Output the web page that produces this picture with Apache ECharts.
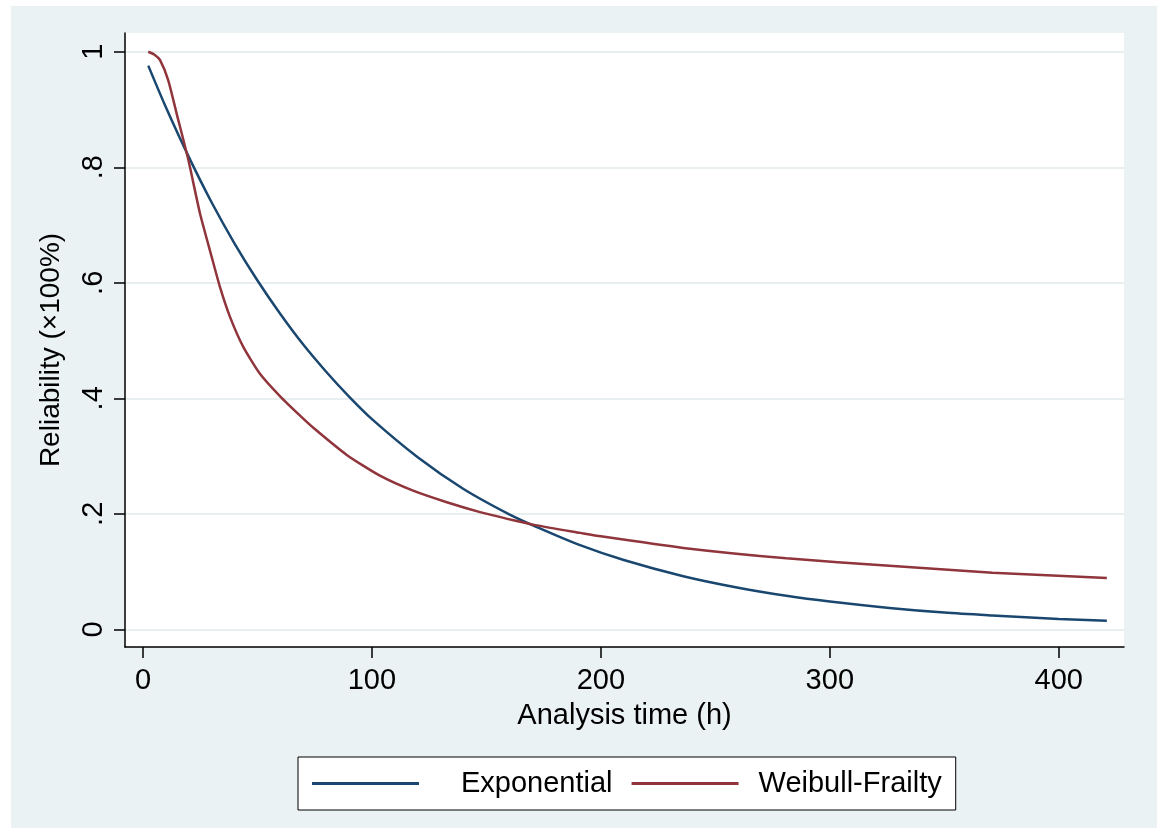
<!DOCTYPE html>
<html>
<head>
<meta charset="utf-8">
<script src="https://cdn.jsdelivr.net/npm/echarts@6/dist/echarts.min.js"></script>
<style>
html,body{margin:0;padding:0;background:#ffffff;}
#main{position:absolute;left:11px;top:6px;width:1146px;height:822px;}
</style>
</head>
<body>
<div id="main"></div>
<script>
// Data
const expTime = [2.3, 10, 20, 30, 40, 50, 60, 70, 80, 90, 100, 120, 140, 160, 172, 190, 210, 236, 260, 281, 300, 326, 350, 371, 400, 421];
const expRel  = [0.976, 0.904, 0.818, 0.739, 0.668, 0.604, 0.546, 0.493, 0.446, 0.403, 0.364, 0.298, 0.243, 0.199, 0.177, 0.147, 0.120, 0.092, 0.072, 0.058, 0.048, 0.037, 0.029, 0.024, 0.018, 0.015];

const wbTime = [2.3, 5, 7.4, 11, 14.7, 19.8, 24.9, 30, 33.6, 38, 43.8, 51, 60, 68.6, 74.4, 89, 103.5, 118, 132.7, 147.2, 161.8, 172, 191, 200, 236, 281, 326, 371, 421];
const wbRel  = [1.000, 0.995, 0.986, 0.951, 0.893, 0.813, 0.720, 0.645, 0.593, 0.541, 0.489, 0.443, 0.403, 0.370, 0.349, 0.302, 0.266, 0.240, 0.220, 0.203, 0.189, 0.180, 0.167, 0.161, 0.141, 0.123, 0.110, 0.098, 0.089];

const xTicks = [0, 100, 200, 300, 400];
const yTicks = [0, 0.2, 0.4, 0.6, 0.8, 1];
const seriesNames = ['Exponential', 'Weibull-Frailty'];

const font = '"Liberation Sans", Arial, sans-serif';
const fs = 29;
const chart = echarts.init(document.getElementById('main'));

function pairs(xs, ys) { return xs.map((x, i) => [x, ys[i]]); }

chart.setOption({
  backgroundColor: '#eaf2f3',
  animation: false,
  textStyle: { fontFamily: font, color: '#000' },
  grid: {
    left: 114, top: 27, width: 999, height: 614,
    show: true, backgroundColor: '#ffffff', borderWidth: 0
  },
  xAxis: {
    type: 'value',
    min: -7.86, max: 428.5,
    name: 'Analysis time (h)',
    nameLocation: 'middle',
    nameGap: 54,
    nameTextStyle: { fontSize: fs, color: '#000', fontFamily: font },
    axisLine: { onZero: false, lineStyle: { color: '#000', width: 1.5 } },
    axisTick: { length: 11, lineStyle: { color: '#000', width: 1.5 }, customValues: xTicks },
    axisLabel: { fontSize: fs, color: '#000', margin: 19, fontFamily: font, customValues: xTicks },
    splitLine: { show: false }
  },
  yAxis: {
    type: 'value',
    min: -0.0306, max: 1.0325,
    name: 'Reliability (×100%)',
    nameLocation: 'middle',
    nameRotate: 90,
    nameGap: 60,
    nameTextStyle: { fontSize: 28, color: '#000', fontFamily: font, padding: [0, 20, 0, 0] },
    axisLine: { onZero: false, lineStyle: { color: '#000', width: 1.5 } },
    axisTick: { length: 11, lineStyle: { color: '#000', width: 1.5 }, customValues: yTicks },
    axisLabel: {
      fontSize: fs, color: '#000', margin: 17, rotate: 90, fontFamily: font,
      customValues: yTicks,
      formatter: v => (v === 0 ? '0' : v === 1 ? '1' : String(Math.round(v * 10) / 10).replace(/^0/, ''))
    },
    splitLine: { show: true, lineStyle: { color: '#e9eff1', width: 2 } }
  },
  legend: {
    left: 287, top: 751,
    orient: 'horizontal',
    backgroundColor: '#ffffff',
    borderColor: '#000', borderWidth: 1,
    padding: [10, 14],
    itemWidth: 107, itemHeight: 3,
    itemGap: 19,
    icon: 'rect',
    data: seriesNames,
    formatter: n => (n === seriesNames[0] ? '{a|' + n + '}' : '{b|' + n + '}'),
    textStyle: {
      fontSize: fs, color: '#000', fontFamily: font, lineHeight: 33,
      rich: {
        a: { fontSize: fs, color: '#000', fontFamily: font, padding: [0, 0, 0, 37], lineHeight: 33 },
        b: { fontSize: fs, color: '#000', fontFamily: font, padding: [0, 0, 0, 15], lineHeight: 33 }
      }
    }
  },
  series: [
    {
      name: seriesNames[0], type: 'line', showSymbol: false, symbol: 'none',
      smooth: 0.3,
      lineStyle: { color: '#1a476f', width: 2.5 }, itemStyle: { color: '#1a476f' },
      data: pairs(expTime, expRel)
    },
    {
      name: seriesNames[1], type: 'line', showSymbol: false, symbol: 'none',
      smooth: 0.2,
      lineStyle: { color: '#90353b', width: 2.5 }, itemStyle: { color: '#90353b' },
      data: pairs(wbTime, wbRel)
    }
  ]
});
</script>
</body>
</html>
